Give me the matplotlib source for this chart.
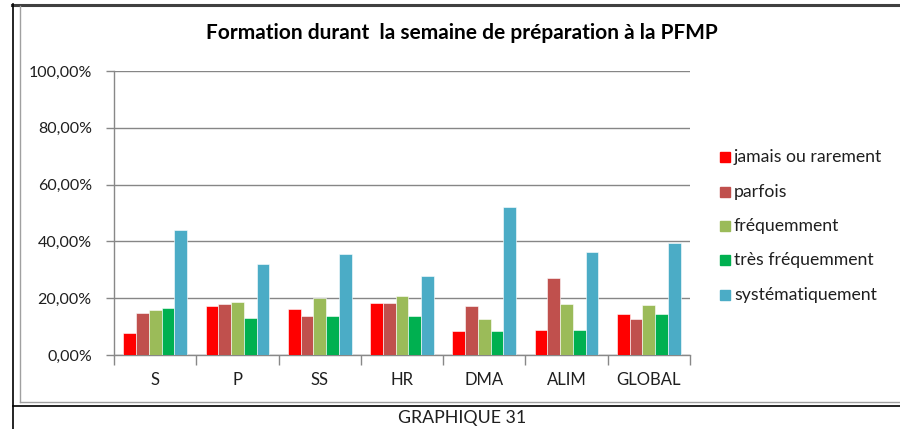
import matplotlib
matplotlib.use("Agg")
import matplotlib.pyplot as plt
from matplotlib.lines import Line2D
from matplotlib.patches import Rectangle
import numpy as np

categories = ["S", "P", "SS", "HR", "DMA", "ALIM", "GLOBAL"]
series_names = ["jamais ou rarement", "parfois", "fréquemment", "très fréquemment", "systématiquement"]
jamais = [7.9, 17.4, 16.3, 18.3, 8.4, 8.7, 14.4]
parfois = [14.7, 17.8, 13.7, 18.3, 17.2, 27.1, 12.7]
frequemment = [15.9, 18.6, 20.0, 20.6, 12.8, 18.0, 17.6]
tres_freq = [16.4, 13.1, 13.7, 13.8, 8.4, 8.7, 14.6]
systematique = [44.0, 32.0, 35.4, 27.7, 52.0, 36.2, 39.5]
yticks = [0, 20, 40, 60, 80, 100]
ytick_labels = ["0,00%", "20,00%", "40,00%", "60,00%", "80,00%", "100,00%"]
title = "Formation durant  la semaine de préparation à la PFMP"
caption = "GRAPHIQUE 31"

colors = ["#FF0000", "#C0504D", "#9BBB59", "#00B050", "#4BACC6"]
font = "Lato"
txtcol = "#1F1F1F"

fig = plt.figure(figsize=(9.0, 4.29), dpi=100)
W, H = 900, 429

def fx(x): return x / W
def fy(y): return 1 - y / H

# outer frame lines
fig.add_artist(Line2D([fx(12), fx(900)], [fy(5), fy(5)], color="#404040", lw=2.2))
fig.add_artist(Line2D([fx(13), fx(13)], [fy(4), fy(429)], color="black", lw=1.2))
fig.add_artist(Line2D([fx(13), fx(900)], [fy(406), fy(406)], color="black", lw=1.2))
fig.add_artist(Line2D([fx(20), fx(20)], [fy(6), fy(402)], color="#A0A0A0", lw=1.0))
fig.add_artist(Line2D([fx(20), fx(900)], [fy(402), fy(402)], color="#A0A0A0", lw=1.0))

left, right, top, bottom = 114, 690, 71, 355
ax = fig.add_axes([fx(left), fy(bottom), fx(right - left), (bottom - top) / H])

data = [jamais, parfois, frequemment, tres_freq, systematique]
n = len(categories)
x = np.arange(n)
bw = 0.155
offsets = (np.arange(5) - 2) * bw
for i, (vals, c) in enumerate(zip(data, colors)):
    ax.bar(x + offsets[i], vals, width=bw, color=c, edgecolor="white", linewidth=0.4,
           label=series_names[i], zorder=3)

ax.set_xlim(-0.5, n - 0.5)
ax.set_ylim(0, 100)
ax.set_yticks(yticks)
ax.set_yticklabels(ytick_labels, fontfamily=font, fontsize=11.5, color=txtcol)
ax.set_xticks(x)
ax.set_xticklabels(categories, fontfamily=font, fontsize=12, color=txtcol)
ax.tick_params(axis="x", length=0, pad=12)
ax.tick_params(axis="y", length=6, color="#888888", width=1, pad=10)
ax.set_xticks(np.arange(n + 1) - 0.5, minor=True)
ax.tick_params(axis="x", which="minor", length=7, color="#888888", width=1)

ax.grid(axis="y", color="#868686", lw=1.0, zorder=0)
for s in ["top", "right"]:
    ax.spines[s].set_visible(False)
ax.spines["left"].set_color("#888888")
ax.spines["bottom"].set_color("#888888")
ax.spines["left"].set_linewidth(1.0)
ax.spines["bottom"].set_linewidth(1.0)

fig.text(fx(462), fy(33), title, ha="center", va="center", fontfamily=font,
         fontsize=15, fontweight="bold", color="black")
fig.text(fx(462), fy(418), caption, ha="center", va="center", fontfamily=font,
         fontsize=12.8, color=txtcol)

# legend
leg_y = [157, 192, 226, 260, 295]
for name, c, yy in zip(series_names, colors, leg_y):
    fig.add_artist(Rectangle((fx(720), fy(yy + 5)), 10 / W, 10 / H, color=c, transform=fig.transFigure))
    fig.text(fx(734), fy(yy), name, ha="left", va="center", fontfamily=font,
             fontsize=12.7, color=txtcol)

fig.savefig("out.png", dpi=100)
